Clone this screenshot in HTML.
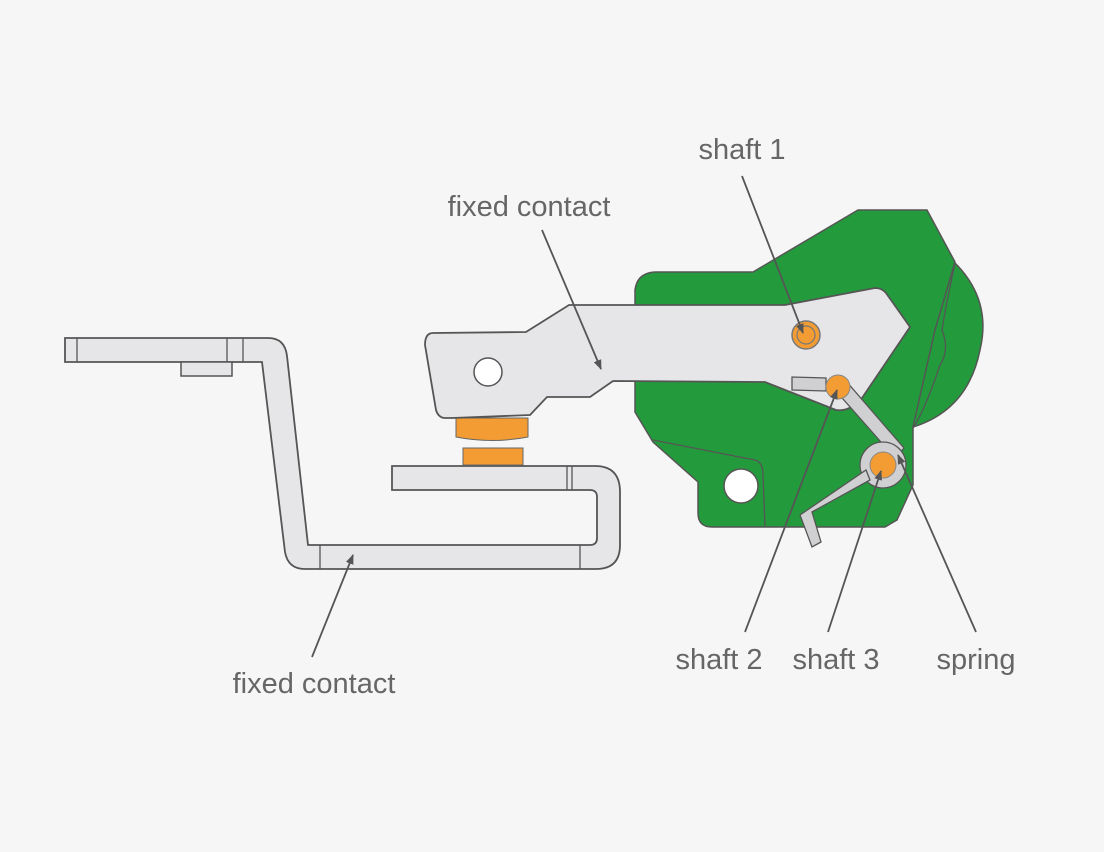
<!DOCTYPE html>
<html><head><meta charset="utf-8"><style>
html,body{margin:0;padding:0;background:#f6f6f6;}
svg{display:block;}
text{font-family:"Liberation Sans",sans-serif;font-size:29px;fill:#666;}
</style></head><body>
<svg width="1104" height="852" viewBox="0 0 1104 852" xmlns="http://www.w3.org/2000/svg">
<defs><marker id="a" markerWidth="10" markerHeight="10" refX="9" refY="5" orient="auto" markerUnits="userSpaceOnUse"><path d="M0,1 L10,5 L0,9 Z" fill="#555"/></marker></defs>
<rect width="1104" height="852" fill="#f6f6f6"/>
<g fill="#239b3c" stroke="#555" stroke-width="1.5">
<path d="M955,263 Q992,300 980,350 Q968,410 913,427 L913,340 Z"/>
<path d="M858,210 L927,210 L955,262 L935,330 L913,427 L913,485 L897,520 L885,527 L712,527 Q698,527 698,513 L698,482 L653,442 L635,412 L635,290 Q637,273 655,272 L753,272 Z"/>
</g>
<g fill="none" stroke="#555" stroke-width="1.3">
<path d="M955,263 Q945,310 942,330 Q950,350 940,365 Q925,410 913,428"/>
<path d="M653,440 L755,460 Q763,462 763,475 L765,527"/>
</g>
<circle cx="741" cy="486" r="17" fill="#fff" stroke="#555" stroke-width="1.5"/>
<path d="M65,338 L268,338 Q285,338 287,356 L308,545 L590,545 Q597,545 597,538 L597,497 Q597,490 590,490 L392,490 L392,466 L595,466 Q620,466 620,492 L620,545 Q620,569 596,569 L305,569 Q288,569 285,552 L262,362 L65,362 Z" fill="#e6e6e8" stroke="#555" stroke-width="1.8"/>
<rect x="181" y="362" width="51" height="14" fill="#e6e6e8" stroke="#555" stroke-width="1.5"/>
<g stroke="#555" stroke-width="1.3">
<line x1="77" y1="338" x2="77" y2="362"/><line x1="227" y1="338" x2="227" y2="362"/><line x1="243" y1="338" x2="243" y2="362"/>
<line x1="320" y1="545" x2="320" y2="569"/><line x1="580" y1="545" x2="580" y2="569"/>
<line x1="567" y1="466" x2="567" y2="490"/><line x1="572" y1="466" x2="572" y2="490"/>
</g>
<rect x="463" y="448" width="60" height="17" fill="#f39c34" stroke="#666" stroke-width="1"/>
<path d="M456,418 L528,418 L528,437 Q492,444 456,437 Z" fill="#f39c34" stroke="#666" stroke-width="1"/>
<path d="M433,333 L526,332 L569,305 L785,305 L875,288 Q882,288 886,293 L910,327 L862,398 Q850,412 836,410 L765,382 L613,381 L590,397 L547,397 L530,415 L452,418 L444,418 Q438,417 436,410 L425,345 Q425,333 433,333 Z" fill="#e6e6e8" stroke="#555" stroke-width="1.8"/>
<circle cx="488" cy="372" r="14" fill="#fff" stroke="#555" stroke-width="1.5"/>
<g fill="#d0d0d2" stroke="#555" stroke-width="1.3">
<path d="M792,377 L826,378 L826,391 L792,390 Z"/>
<path d="M836,391 L846,381 L904,448 L895,458 Z"/>
<circle cx="883" cy="465" r="23"/>
<path d="M870,480 L812,512 L821,542 L812,547 L800,515 L866,470 Z"/>
</g>
<circle cx="806" cy="335" r="14" fill="#f39c34" stroke="#777" stroke-width="1.5"/>
<circle cx="806" cy="335" r="9" fill="none" stroke="#777" stroke-width="1.2"/>
<circle cx="838" cy="387" r="12" fill="#f39c34" stroke="#888" stroke-width="1"/>
<circle cx="883" cy="465" r="13" fill="#f39c34" stroke="#888" stroke-width="1"/>
<g stroke="#555" stroke-width="1.8" marker-end="url(#a)">
<line x1="742" y1="176" x2="803" y2="333"/>
<line x1="542" y1="230" x2="601" y2="369"/>
<line x1="312" y1="657" x2="353" y2="555"/>
<line x1="745" y1="632" x2="837" y2="390"/>
<line x1="828" y1="632" x2="881" y2="471"/>
<line x1="976" y1="632" x2="898" y2="455"/>
</g>
<text x="742" y="159" text-anchor="middle">shaft 1</text>
<text x="529" y="216" text-anchor="middle">fixed contact</text>
<text x="314" y="693" text-anchor="middle">fixed contact</text>
<text x="719" y="669" text-anchor="middle">shaft 2</text>
<text x="836" y="669" text-anchor="middle">shaft 3</text>
<text x="976" y="669" text-anchor="middle">spring</text>
</svg>
</body></html>
